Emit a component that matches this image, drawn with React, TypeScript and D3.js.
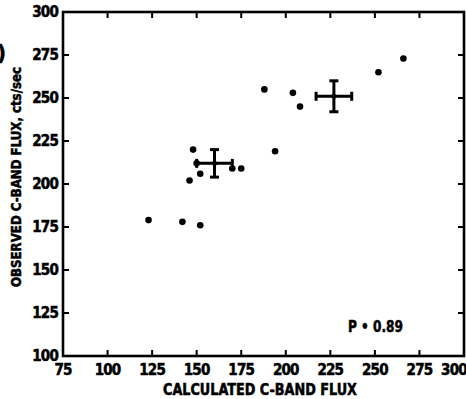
import React from "react";
import * as d3 from "d3";

const calcFlux = [123, 142, 152, 148, 146, 152, 150, 170, 175, 194, 188, 204, 208, 252, 266];
const obsFlux = [179, 178, 176, 220, 202, 206, 212, 209, 209, 219, 255, 253, 245, 265, 273];

const meanX = [160, 227];
const meanY = [212, 251];
const errX = [10, 10];
const errY = [8, 9];

const xTicks = [75, 100, 125, 150, 175, 200, 225, 250, 275, 300];
const yTicks = [100, 125, 150, 175, 200, 225, 250, 275, 300];

const xTitle = "CALCULATED C-BAND FLUX";
const yTitle = "OBSERVED C-BAND FLUX, cts/sec";
const note = "P • 0.89";
const panel = "(b)";

const W = 466;
const H = 399;
const L = 63, R = 464, T = 12, B = 356;
const FONT = "'Liberation Sans Narrow', 'DejaVu Sans Condensed', 'Arial Narrow', sans-serif";

export default function App() {
  const x = d3.scaleLinear().domain([75, 300]).range([L, R]);
  const y = d3.scaleLinear().domain([100, 300]).range([B, T]);
  const tl = 6;
  const cap = 4.5;
  return (
    <svg width={W} height={H} style={{ position: "absolute", left: 0, top: 0, background: "#fff" }}>
      <rect x={0} y={0} width={W} height={H} fill="#fff" />
      <g fontFamily={FONT} fontWeight="bold" fill="#000">
        {/* frame */}
        <rect x={L} y={T} width={R - L} height={B - T} fill="none" stroke="#000" strokeWidth={2.6} />
        {/* x ticks top & bottom */}
        {xTicks.slice(1, -1).map((t) => (
          <g key={"xt" + t}>
            <line x1={x(t)} x2={x(t)} y1={B} y2={B - tl} stroke="#000" strokeWidth={2} />
            <line x1={x(t)} x2={x(t)} y1={T} y2={T + tl} stroke="#000" strokeWidth={2} />
          </g>
        ))}
        {yTicks.slice(1, -1).map((t) => (
          <g key={"yt" + t}>
            <line x1={L} x2={L + tl} y1={y(t)} y2={y(t)} stroke="#000" strokeWidth={2} />
            <line x1={R} x2={R - tl} y1={y(t)} y2={y(t)} stroke="#000" strokeWidth={2} />
          </g>
        ))}
        <g stroke="#000" strokeWidth={0.5}>
          {/* tick labels */}
          {xTicks.map((t) => (
            <text key={"xl" + t} x={Math.min(x(t), W - 12)} y={375} textAnchor="middle" fontSize={15} letterSpacing={-0.8}>
              {t}
            </text>
          ))}
          {yTicks.map((t) => (
            <text key={"yl" + t} x={58} y={y(t) + 5} textAnchor="end" fontSize={15} letterSpacing={-0.8}>
              {t}
            </text>
          ))}
          {/* titles */}
          <text x={163} y={395} fontSize={15} textLength={194} lengthAdjust="spacingAndGlyphs">
            {xTitle}
          </text>
          <text
            transform={`translate(21,${287}) rotate(-90)`}
            fontSize={14}
            textLength={220}
            lengthAdjust="spacingAndGlyphs"
          >
            {yTitle}
          </text>
          <text x={348} y={332} fontSize={16} textLength={55} lengthAdjust="spacingAndGlyphs">
            {note}
          </text>
          <text x={6} y={60} textAnchor="end" fontSize={22}>
            {panel}
          </text>
        </g>
        {/* points */}
        {calcFlux.map((v, i) => (
          <circle key={"p" + i} cx={x(v)} cy={y(obsFlux[i])} r={3.3} fill="#000" />
        ))}
        {/* error crosses */}
        {meanX.map((v, i) => {
          const cx = x(v), cy = y(meanY[i]);
          const x0 = x(v - errX[i]), x1 = x(v + errX[i]);
          const y0 = y(meanY[i] - errY[i]), y1 = y(meanY[i] + errY[i]);
          return (
            <g key={"e" + i} stroke="#000" strokeWidth={3}>
              <line x1={x0} x2={x1} y1={cy} y2={cy} />
              <line x1={cx} x2={cx} y1={y0} y2={y1} />
              <line x1={x0} x2={x0} y1={cy - cap} y2={cy + cap} />
              <line x1={x1} x2={x1} y1={cy - cap} y2={cy + cap} />
              <line x1={cx - cap} x2={cx + cap} y1={y0} y2={y0} />
              <line x1={cx - cap} x2={cx + cap} y1={y1} y2={y1} />
              <circle cx={cx} cy={cy} r={2.5} fill="#000" stroke="none" />
            </g>
          );
        })}
      </g>
    </svg>
  );
}
